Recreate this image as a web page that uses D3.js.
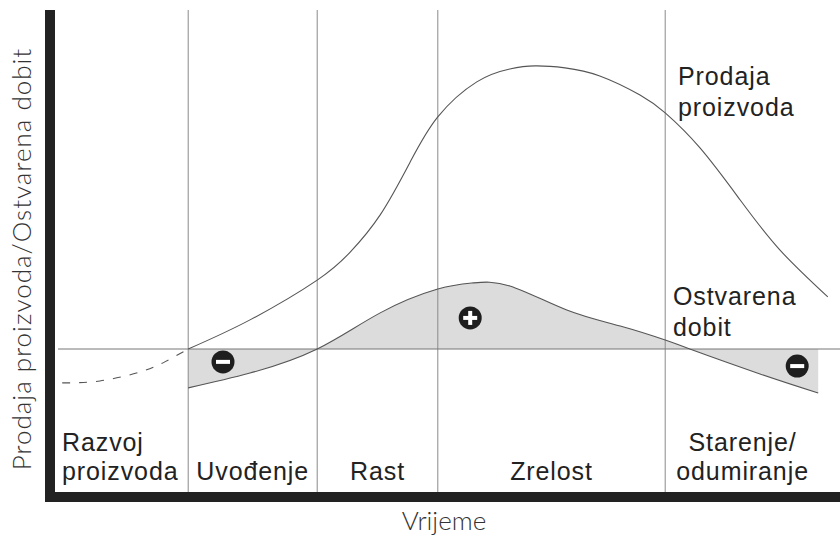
<!DOCTYPE html>
<html>
<head>
	<meta charset="utf-8">
	<script src="https://d3js.org/d3.v7.min.js"></script>
	<style>
		body { margin: 0; background: #fff; }
	</style>
</head>
<body>
	<div id="my_dataviz"></div>
	<script>

	// time axis (arbitrary units) and the phase borders
	const phaseBorders = [22.2, 43.7, 63.8, 101.7]

	// sales before launch (dashed) and after launch
	const salesDevT = [1.2, 7.5, 14.2, 18.3, 22.2]
	const salesDevV = [-12.1, -11.4, -8.2, -4.6, 0]
	const salesT = [22.2, 32.5, 43.7, 49.2, 54.2, 59.2, 63.8, 70.3, 75.8, 80, 85, 90.8, 97.5, 101.7, 107.5, 114.2, 120.8, 128.8]
	const salesV = [0, 10.4, 24.6, 34.6, 47.9, 66.8, 82.9, 95.4, 100, 101.1, 100.4, 97.5, 90.7, 84.3, 71.8, 53.2, 35.4, 18.6]

	// profit
	const profitT = [22.2, 32.5, 43.7, 54.2, 63.8, 69.7, 75.8, 85.3, 94.2, 101.7, 105.8, 117.5, 127.2]
	const profitV = [-13.9, -8.6, 0, 12.9, 21.4, 23.6, 22.5, 13.9, 8.2, 3.2, 0, -8.9, -15.7]

	// +/- markers
	const signT = [28, 69.2, 123.7]
	const signV = [-4.6, 11.1, -6.1]
	const signs = ["-", "+", "-"]

	// phase labels (each one can have two lines)
	const phaseLabels = [
		["Razvoj", "proizvoda"],
		["Uvođenje"],
		["Rast"],
		["Zrelost"],
		["Starenje/", "odumiranje"]
	]

	const width = 840
	const height = 539

	const svg = d3.select("#my_dataviz")
	  .append("svg")
	    .attr("width", width)
	    .attr("height", height)

	const x = d3.scaleLinear().domain([0, 130]).range([55, 835])
	const y = d3.scaleLinear().domain([-50, 120]).range([489, 13])

	const plotTop = 10, plotBottom = 492, plotLeft = 55
	const curve = d3.curveNatural

	// profit area between curve and zero
	const profit = profitT.map((t, i) => ({t: t, v: profitV[i]}))
	svg.append("path")
	  .datum(profit)
	  .attr("fill", "#dcdcdc")
	  .attr("d", d3.area()
	    .x(d => x(d.t))
	    .y0(y(0))
	    .y1(d => y(d.v))
	    .curve(curve))

	// phase borders
	svg.append("g")
	  .selectAll("line")
	  .data(phaseBorders)
	  .join("line")
	    .attr("x1", d => x(d)).attr("x2", d => x(d))
	    .attr("y1", plotTop).attr("y2", plotBottom)
	    .attr("stroke", "#8a8a8a")
	    .attr("stroke-width", 1)

	// zero line
	svg.append("line")
	  .attr("x1", plotLeft + 3).attr("x2", width)
	  .attr("y1", y(0)).attr("y2", y(0))
	  .attr("stroke", "#777")
	  .attr("stroke-width", 1)

	const line = d3.line()
	  .x(d => x(d.t))
	  .y(d => y(d.v))
	  .curve(curve)

	svg.append("path")
	  .datum(profit)
	  .attr("fill", "none")
	  .attr("stroke", "#555")
	  .attr("stroke-width", 1.1)
	  .attr("d", line)

	svg.append("path")
	  .datum(salesT.map((t, i) => ({t: t, v: salesV[i]})))
	  .attr("fill", "none")
	  .attr("stroke", "#555")
	  .attr("stroke-width", 1.1)
	  .attr("d", line)

	svg.append("path")
	  .datum(salesDevT.map((t, i) => ({t: t, v: salesDevV[i]})))
	  .attr("fill", "none")
	  .attr("stroke", "#555")
	  .attr("stroke-width", 1.1)
	  .attr("stroke-dasharray", "8,9")
	  .attr("d", line)

	// +/- signs
	const sg = svg.append("g")
	  .selectAll("g")
	  .data(signs.map((s, i) => ({s: s, t: signT[i], v: signV[i]})))
	  .join("g")
	    .attr("transform", d => `translate(${x(d.t)},${y(d.v)})`)
	sg.append("circle").attr("r", 11.5).attr("fill", "#1e1e1e")
	sg.append("rect")
	  .attr("x", -7).attr("y", -2).attr("width", 14).attr("height", 4)
	  .attr("fill", "#fff")
	sg.filter(d => d.s === "+").append("rect")
	  .attr("x", -2).attr("y", -7).attr("width", 4).attr("height", 14)
	  .attr("fill", "#fff")

	// thick axes
	svg.append("rect")
	  .attr("x", 45).attr("y", plotTop).attr("width", 10).attr("height", plotBottom - plotTop + 10)
	  .attr("fill", "#222")
	svg.append("rect")
	  .attr("x", 45).attr("y", plotBottom).attr("width", width - 45).attr("height", 10)
	  .attr("fill", "#222")

	const labelFont = text => text
	  .style("font-family", "Liberation Sans, Arial, sans-serif")
	  .style("font-size", "25px")
	  .style("letter-spacing", "0.9px")
	  .attr("fill", "#222")

	// phase labels, centred in each phase (first one left aligned)
	const edges = [x(0), ...phaseBorders.map(x), 820]
	phaseLabels.forEach((lines, i) => {
	  const first = i === 0
	  const cx = first ? 62 : (edges[i] + edges[i + 1]) / 2
	  lines.forEach((txt, j) => {
	    svg.append("text")
	      .attr("x", cx)
	      .attr("y", 480 - (lines.length - 1 - j) * 29)
	      .attr("text-anchor", first ? "start" : "middle")
	      .call(labelFont)
	      .text(txt)
	  })
	})

	// curve labels
	const curveLabel = (lines, px, py) => lines.forEach((txt, j) => {
	  svg.append("text")
	    .attr("x", px).attr("y", py + j * 31)
	    .call(labelFont)
	    .text(txt)
	})
	curveLabel(["Prodaja", "proizvoda"], 678, 85)
	curveLabel(["Ostvarena", "dobit"], 673, 305)

	// axis titles
	svg.append("text")
	  .attr("x", 444).attr("y", 530)
	  .attr("text-anchor", "middle")
	  .style("font-family", "Lato, sans-serif")
	  .style("font-weight", 300)
	  .style("font-size", "26px")
	  .attr("fill", "#333")
	  .text("Vrijeme")

	svg.append("text")
	  .attr("transform", "translate(31,259) rotate(-90)")
	  .attr("text-anchor", "middle")
	  .style("font-family", "Lato, sans-serif")
	  .style("font-weight", 300)
	  .style("font-size", "26px")
	  .style("letter-spacing", "1px")
	  .attr("fill", "#333")
	  .text("Prodaja proizvoda/Ostvarena dobit")

	</script>
</body>
</html>
